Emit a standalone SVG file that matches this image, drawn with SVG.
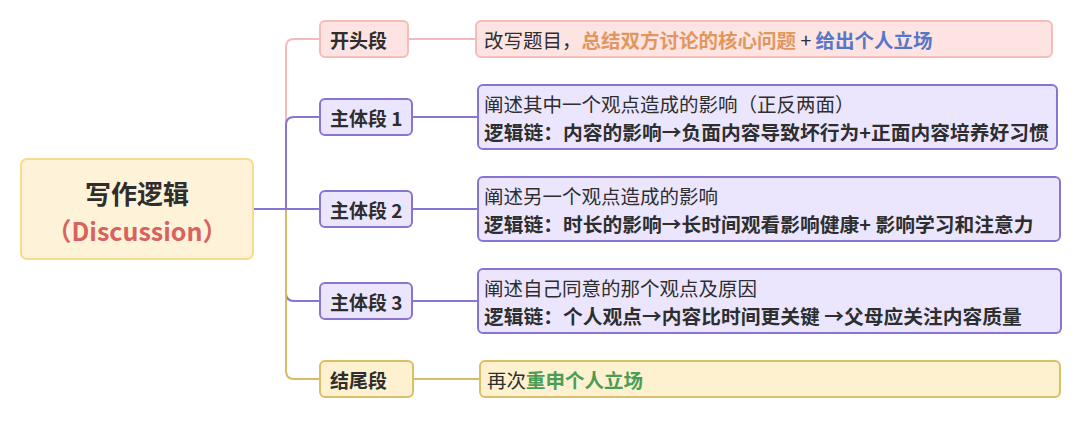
<svg xmlns="http://www.w3.org/2000/svg" width="1080" height="423" viewBox="0 0 1080 423">
<style>
text{font-family:"Noto Sans CJK SC","Noto Sans",sans-serif;fill:#2e2e2e;dominant-baseline:central}
.c{fill:none;stroke-width:2}
.pk{stroke:#f6bab6}
.pu{stroke:#8a74d2}
.go{stroke:#d8bb66}
.bpk{fill:#fde3e1;stroke:#f7bcb8;stroke-width:2}
.bpu{fill:#ebe6fd;stroke:#8a74d2;stroke-width:2}
.bgo{fill:#fdf1cf;stroke:#dcbe6a;stroke-width:2}
.l1{font-size:19px;font-weight:bold}
.d{font-size:19.5px}
.b{font-weight:bold}
.d.b{font-size:19.75px}
</style>
<rect width="1080" height="423" fill="#ffffff"/>
<g id="connectors">
<path class="c pk" d="M253 209H286V47Q286 39 294 39H320"/>
<path class="c pu" d="M286 209V125Q286 117 294 117H320"/>
<path class="c pu" d="M286 209V293Q286 301 294 301H320"/>
<path class="c go" d="M286 209V371Q286 379 294 379H320"/>
<path class="c pu" d="M253 209H320"/>
<path class="c pk" d="M408 39H476"/>
<path class="c pu" d="M412 117H478"/>
<path class="c pu" d="M412 209H478"/>
<path class="c pu" d="M412 301H478"/>
<path class="c go" d="M413 379H480"/>
</g>
<g id="root">
<rect x="21" y="159" width="232" height="100" rx="6" fill="#fef3d9" stroke="#f8dc8c" stroke-width="2"/>
<text x="137" y="192" text-anchor="middle" style="font-size:26px;font-weight:bold">写作逻辑</text>
<text x="137" y="230" text-anchor="middle" style="font-size:25px;font-weight:bold;fill:#d8625f">（Discussion）</text>
</g>
<g id="n-kaitou">
<rect class="bpk" x="320" y="21" width="88" height="36" rx="5"/>
<text class="l1" x="330" y="39">开头段</text>
</g>
<g id="n-zhuti1">
<rect class="bpu" x="320" y="99" width="92" height="36" rx="5"/>
<text class="l1" x="330" y="117">主体段 1</text>
</g>
<g id="n-zhuti2">
<rect class="bpu" x="320" y="191" width="92" height="36" rx="5"/>
<text class="l1" x="330" y="209">主体段 2</text>
</g>
<g id="n-zhuti3">
<rect class="bpu" x="320" y="283" width="92" height="36" rx="5"/>
<text class="l1" x="330" y="301">主体段 3</text>
</g>
<g id="n-jiewei">
<rect class="bgo" x="320" y="361" width="93" height="36" rx="5"/>
<text class="l1" x="330" y="379">结尾段</text>
</g>
<g id="d-kaitou">
<rect class="bpk" x="476" y="21" width="576" height="36" rx="5"/>
<text class="d" x="484" y="39">改写题目，<tspan class="b" style="fill:#e0975f">总结双方讨论的核心问题</tspan> + <tspan class="b" style="fill:#5676c8">给出个人立场</tspan></text>
</g>
<g id="d-zhuti1">
<rect class="bpu" x="478" y="85" width="579" height="64" rx="5"/>
<text class="d" x="484" y="103">阐述其中一个观点造成的影响（正反两面）</text>
<text class="d b" x="484" y="131">逻辑链：内容的影响→负面内容导致坏行为+正面内容培养好习惯</text>
</g>
<g id="d-zhuti2">
<rect class="bpu" x="478" y="177" width="582" height="64" rx="5"/>
<text class="d" x="484" y="195">阐述另一个观点造成的影响</text>
<text class="d b" x="484" y="223">逻辑链：时长的影响→长时间观看影响健康+ 影响学习和注意力</text>
</g>
<g id="d-zhuti3">
<rect class="bpu" x="478" y="269" width="583" height="64" rx="5"/>
<text class="d" x="484" y="287">阐述自己同意的那个观点及原因</text>
<text class="d b" x="484" y="315">逻辑链：个人观点→内容比时间更关键 →父母应关注内容质量</text>
</g>
<g id="d-jiewei">
<rect class="bgo" x="480" y="361" width="580" height="36" rx="5"/>
<text class="d" x="487" y="379">再次<tspan class="b" style="fill:#4b9d55">重申个人立场</tspan></text>
</g>
</svg>
